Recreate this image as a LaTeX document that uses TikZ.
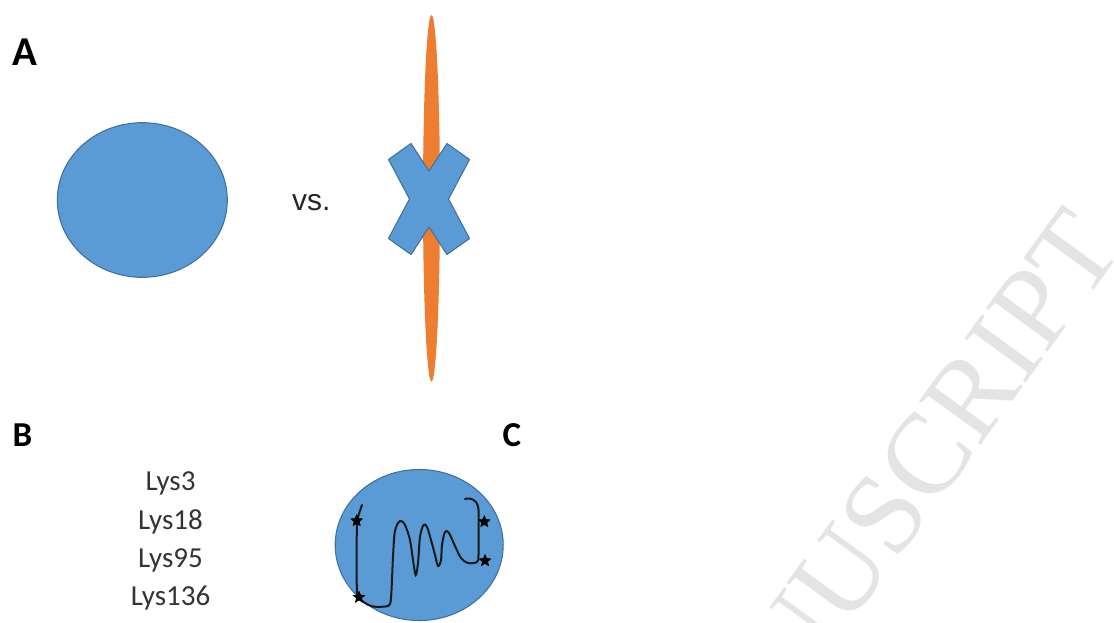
\documentclass[tikz,border=0pt]{standalone}
\usepackage{fontspec}
\setmainfont{Carlito}
\newfontfamily\arialfont{Liberation Sans}
\newfontfamily\timesfont{Liberation Serif}
\usetikzlibrary{positioning,shapes.geometric}
\definecolor{cellblue}{HTML}{5B9BD5}
\definecolor{celledge}{HTML}{41719C}
\definecolor{rodorange}{HTML}{ED7D31}
\definecolor{markgrey}{HTML}{E4E4E4}
\tikzset{
  panel/.style={font=\fontsize{35}{35}\selectfont\bfseries,anchor=base west,inner sep=0pt},
  cell/.style={fill=cellblue,draw=celledge,line width=1.1pt},
  lys/.style={font=\fontsize{29}{29}\selectfont,text=black!80,anchor=base,inner sep=0pt},
  site/.style={star,star points=5,star point ratio=2.2,fill=black,draw=black,line width=0.6pt,
               inner sep=0pt,minimum size=12pt},
}

\begin{document}
\begin{tikzpicture}[x=1pt,y=-1pt]
\useasboundingbox (0,0) rectangle (1114,622);
% ---- watermark, kept behind everything ----
\begin{scope}
\clip (0,0) rectangle (1114,622);
\node[rotate=54,anchor=base east,inner sep=0pt,text=markgrey,
      font=\timesfont\fontsize{115}{115}\selectfont] (wm) at (1125,247) {ACCEPTED MANUSCRIPT};
\end{scope}
% ---- panel A: round cell vs. rod with cross ----
\node[panel,font=\fontsize{41}{41}\selectfont\bfseries] (pA) at (12.5,65) {A};
\draw[cell] (142.3,200) ellipse (85 and 77.3);
\node[anchor=base west,inner sep=0pt,text=black!85,font=\arialfont\fontsize{30}{30}\selectfont] (vs) at (292,210) {vs.};
\fill[rodorange] (431.5,198.3) ellipse (8.5 and 183.3);
\draw[cell,line join=round] (429,199) ++(-40.5,-39.5) -- ++(22.5,-16) -- (429,171) -- (447,143.5)
  -- ++(22.5,16) -- (448.5,199) -- (469.5,238.5) -- ++(-22.5,16) -- (429,227) -- (411,254.5)
  -- ++(-22.5,-16) -- (409.5,199) -- cycle;
% ---- panel B: lysine list ----
\node[panel] (pB) at (12.5,446) {B};
\foreach \name/\yy in {3/490.7,18/529.1,95/567.5,136/605.9}
  \node[lys] (lys\name) at (170.5,\yy) {Lys\name};
% ---- panel C: folded chain inside the cell ----
\node[panel] (pC) at (502.3,446) {C};
\draw[cell] (419.2,545) ellipse (84 and 75.5);
\draw[line width=2pt,black!90,line cap=round] plot[smooth,tension=0.55] coordinates {
  (362,505) (357.5,520) (356.7,540) (356.7,570) (357,593) (359,598) (365,603) (373,606.5)
  (385,606.5) (390,604) (391.5,590) (393,557) (395,531) (400,521) (405,525) (410,540)
  (413,560) (415.7,575) (418,563) (420,537) (423.5,525) (427,527) (431,540) (435,555)
  (438,566) (441,560) (442,545) (445,532) (449,533) (455,546) (461,558) (468,563)
  (477,562) (478.5,555) (478.5,530) (478.5,510) (476,502) (470,498.5) (465,499)};
\node[site] (s1) at (356.7,520.7) {};
\node[site] (s2) at (359,597.3) {};
\node[site] (s3) at (484.3,521.7) {};
\node[site] (s4) at (485,560.7) {};
\end{tikzpicture}
\end{document}
